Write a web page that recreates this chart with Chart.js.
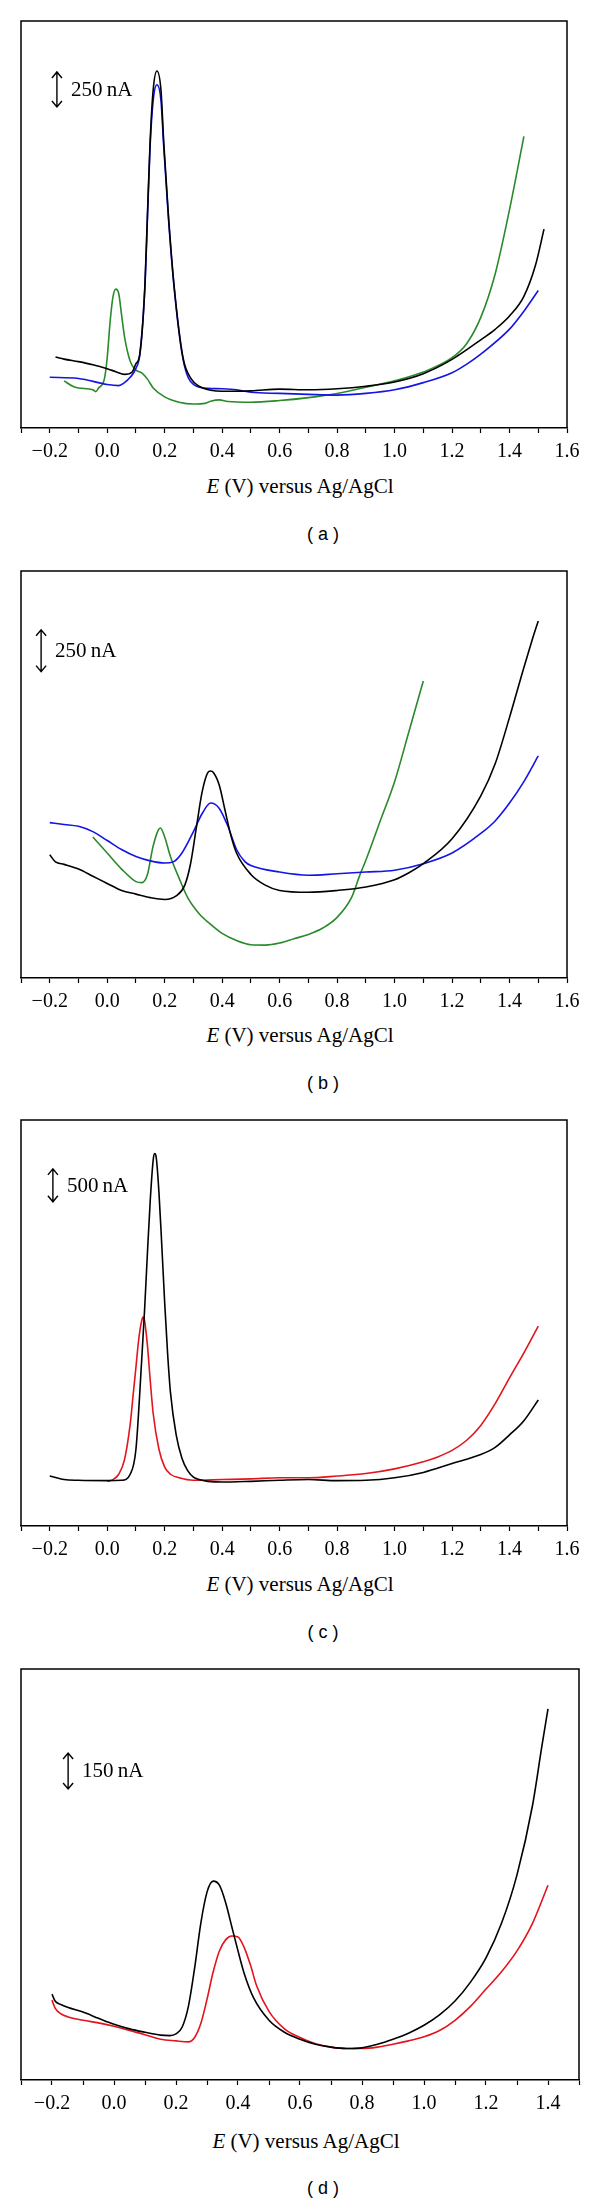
<!DOCTYPE html>
<html>
<head>
<meta charset="utf-8">
<script src="https://cdn.jsdelivr.net/npm/chart.js@4.4.1/dist/chart.umd.min.js"></script>
<style>
  body { margin: 0; background: #fff; }
  #page { position: relative; width: 600px; height: 2205px; overflow: hidden; }
  canvas { position: absolute; left: 0; }
  .xt { position: absolute; transform: translate(-50%, -50%); white-space: nowrap;
        font-family: "Liberation Serif", serif; font-size: 21px; color: #000; }
  .lab { position: absolute; transform: translate(-50%, -50%); white-space: nowrap;
         font-family: "Liberation Sans", sans-serif; font-size: 18px; color: #000; }
</style>
</head>
<body>
<div id="page">
  <canvas id="chartA" width="600" height="470" style="top:0px"></canvas>
  <canvas id="chartB" width="600" height="470" style="top:550px"></canvas>
  <canvas id="chartC" width="600" height="469" style="top:1099px"></canvas>
  <canvas id="chartD" width="600" height="474" style="top:1648px"></canvas>
  <div class="xt" style="left:300px; top:486px"><i>E</i> (V) versus Ag/AgCl</div>
  <div class="lab" style="left:323px; top:534px">( a )</div>
  <div class="xt" style="left:300px; top:1035px"><i>E</i> (V) versus Ag/AgCl</div>
  <div class="lab" style="left:323px; top:1083px">( b )</div>
  <div class="xt" style="left:300px; top:1584px"><i>E</i> (V) versus Ag/AgCl</div>
  <div class="lab" style="left:323px; top:1632px">( c )</div>
  <div class="xt" style="left:306px; top:2141px"><i>E</i> (V) versus Ag/AgCl</div>
  <div class="lab" style="left:323px; top:2188px">( d )</div>
</div>
<script>
// potentials (V) and currents (nA)

// (a)
var aBlackE = [-0.18, -0.15, -0.10, -0.05, 0.0, 0.03, 0.06, 0.087, 0.10, 0.113, 0.131, 0.14, 0.149, 0.16, 0.173, 0.187, 0.197, 0.213, 0.233, 0.264, 0.293, 0.32, 0.36, 0.4, 0.5, 0.6, 0.7, 0.8, 0.9, 1.0, 1.1, 1.2, 1.3, 1.35, 1.4, 1.45, 1.49, 1.52];
var aBlackI = [507, 492, 474, 452, 423, 402, 383, 400, 460, 520, 1010, 1520, 2030, 2415, 2550, 2415, 2030, 1520, 1010, 500, 349, 298, 270, 262, 265, 278, 273, 280, 298, 329, 388, 490, 630, 705, 800, 940, 1160, 1420];
var aBlueE  = [-0.2, -0.1, 0.0, 0.04, 0.06, 0.08, 0.10, 0.113, 0.131, 0.14, 0.149, 0.16, 0.173, 0.187, 0.197, 0.213, 0.233, 0.264, 0.3, 0.35, 0.4, 0.45, 0.5, 0.6, 0.7, 0.8, 0.9, 1.0, 1.1, 1.2, 1.25, 1.3, 1.4, 1.45, 1.5];
var aBlueI  = [362, 354, 311, 303, 324, 362, 426, 520, 1000, 1500, 2000, 2340, 2452, 2340, 2000, 1500, 1000, 490, 311, 283, 280, 273, 255, 247, 240, 235, 247, 273, 324, 395, 455, 528, 706, 834, 982];
var aGreenE = [-0.15, -0.12, -0.10, -0.05, -0.04, -0.03, -0.01, 0.0, 0.01, 0.02, 0.03, 0.04, 0.05, 0.06, 0.08, 0.10, 0.12, 0.14, 0.16, 0.2, 0.25, 0.3, 0.34, 0.36, 0.39, 0.42, 0.5, 0.6, 0.7, 0.8, 0.9, 1.0, 1.1, 1.2, 1.25, 1.3, 1.35, 1.4, 1.45];
var aGreenI = [337, 298, 286, 273, 260, 286, 349, 502, 757, 936, 992, 961, 808, 655, 477, 413, 393, 349, 286, 222, 184, 171, 176, 191, 201, 189, 184, 196, 217, 247, 291, 337, 400, 502, 600, 790, 1100, 1560, 2083];

// (b)
var bBlackE = [-0.2, -0.18, -0.15, -0.10, -0.05, 0.0, 0.05, 0.10, 0.15, 0.2, 0.24, 0.27, 0.29, 0.31, 0.33, 0.35, 0.36, 0.37, 0.39, 0.41, 0.43, 0.45, 0.5, 0.55, 0.6, 0.7, 0.8, 0.9, 1.0, 1.05, 1.1, 1.2, 1.3, 1.35, 1.4, 1.45, 1.48, 1.5];
var bBlackI = [737, 695, 680, 652, 609, 566, 524, 502, 481, 470, 491, 556, 684, 898, 1111, 1229, 1239, 1229, 1154, 1004, 855, 748, 620, 556, 524, 513, 524, 545, 588, 630, 684, 833, 1090, 1282, 1560, 1859, 2030, 2137];
var bBlueE  = [-0.2, -0.15, -0.10, -0.05, 0.0, 0.05, 0.10, 0.15, 0.2, 0.23, 0.26, 0.3, 0.33, 0.36, 0.39, 0.42, 0.45, 0.48, 0.5, 0.6, 0.7, 0.8, 0.9, 1.0, 1.1, 1.2, 1.3, 1.35, 1.4, 1.45, 1.5];
var bBlueI  = [930, 919, 908, 876, 823, 769, 727, 701, 688, 695, 748, 876, 983, 1047, 1015, 908, 769, 695, 673, 634, 615, 624, 634, 645, 684, 748, 865, 940, 1047, 1175, 1329];
var bGreenE = [-0.05, 0.0, 0.05, 0.10, 0.12, 0.14, 0.16, 0.185, 0.2, 0.22, 0.25, 0.28, 0.32, 0.36, 0.4, 0.45, 0.5, 0.55, 0.6, 0.65, 0.7, 0.75, 0.8, 0.85, 0.88, 0.9, 0.95, 1.0, 1.05, 1.1];
var bGreenI = [844, 748, 652, 577, 571, 620, 791, 898, 844, 727, 598, 481, 385, 321, 267, 224, 199, 197, 209, 235, 261, 299, 363, 481, 620, 705, 940, 1175, 1475, 1778];

// (c)
var cBlackE = [-0.2, -0.15, -0.10, 0.0, 0.05, 0.08, 0.10, 0.12, 0.13, 0.14, 0.15, 0.16, 0.165, 0.17, 0.18, 0.19, 0.2, 0.21, 0.22, 0.24, 0.26, 0.28, 0.3, 0.32, 0.35, 0.4, 0.5, 0.6, 0.7, 0.8, 0.9, 1.0, 1.1, 1.2, 1.3, 1.35, 1.4, 1.45, 1.5];
var cBlackI = [760, 706, 695, 690, 695, 787, 1167, 2525, 3285, 4154, 4968, 5566, 5663, 5620, 5077, 4263, 3394, 2634, 2036, 1385, 1032, 842, 744, 706, 679, 668, 679, 695, 706, 690, 695, 733, 815, 950, 1086, 1195, 1385, 1602, 1917];
var cRedE   = [0.0, 0.02, 0.04, 0.06, 0.08, 0.09, 0.10, 0.11, 0.12, 0.125, 0.13, 0.14, 0.15, 0.16, 0.18, 0.2, 0.22, 0.25, 0.3, 0.4, 0.5, 0.6, 0.7, 0.8, 0.9, 1.0, 1.1, 1.15, 1.2, 1.25, 1.3, 1.35, 1.4, 1.45, 1.5];
var cRedI   = [679, 706, 787, 1005, 1548, 1982, 2416, 2851, 3122, 3176, 3122, 2742, 2199, 1711, 1167, 896, 787, 733, 695, 706, 717, 733, 733, 760, 798, 869, 977, 1050, 1150, 1300, 1530, 1860, 2253, 2634, 3041];

// (d)
var dBlackE = [-0.2, -0.19, -0.17, -0.15, -0.10, -0.05, 0.0, 0.05, 0.10, 0.15, 0.18, 0.2, 0.22, 0.24, 0.26, 0.28, 0.3, 0.32, 0.34, 0.36, 0.38, 0.4, 0.42, 0.45, 0.5, 0.55, 0.6, 0.65, 0.7, 0.75, 0.8, 0.85, 0.9, 0.95, 1.0, 1.05, 1.1, 1.15, 1.2, 1.25, 1.3, 1.35, 1.38, 1.4];
var dBlackI = [358, 329, 314, 303, 283, 257, 232, 213, 199, 187, 185, 192, 221, 307, 466, 653, 783, 829, 812, 740, 639, 538, 444, 343, 249, 199, 170, 149, 137, 131, 134, 149, 170, 195, 228, 271, 329, 408, 509, 653, 855, 1144, 1389, 1547];
var dRedE   = [-0.2, -0.19, -0.17, -0.15, -0.10, -0.05, 0.0, 0.05, 0.10, 0.15, 0.2, 0.24, 0.26, 0.28, 0.3, 0.32, 0.34, 0.36, 0.38, 0.4, 0.42, 0.44, 0.46, 0.5, 0.55, 0.6, 0.65, 0.7, 0.75, 0.8, 0.85, 0.9, 0.95, 1.0, 1.05, 1.1, 1.15, 1.2, 1.25, 1.3, 1.35, 1.4];
var dRedI   = [333, 300, 275, 264, 249, 238, 224, 206, 189, 170, 163, 159, 177, 235, 336, 451, 538, 584, 600, 596, 552, 480, 393, 286, 213, 177, 151, 137, 131, 131, 137, 149, 163, 180, 206, 249, 307, 379, 451, 538, 653, 812];

// axis ranges and scale bars (nA)
var yMaxA = 2907, yMaxB = 2436, yMaxC = 6174, yMaxD = 1713;
var barA = { x: -0.175, top: 2543, size: 250, label: '250\u2009nA' };
var barB = { x: -0.230, top: 2084, size: 250, label: '250\u2009nA' };
var barC = { x: -0.189, top: 5430, size: 500, label: '500\u2009nA' };
var barD = { x: -0.148, top: 1363, size: 150, label: '150\u2009nA' };

var BLACK = '#000000', BLUE = '#1414e6', GREEN = '#2a8a2a', RED = '#e3141c';

function pts(xs, ys) {
    return xs.map(function(v, i) { return { x: v, y: ys[i] }; });
}

function serie(xs, ys, color) {
    return {
        data: pts(xs, ys),
        borderColor: color,
        borderWidth: 1.6,
        pointRadius: 0,
        showLine: true,
        fill: false,
        cubicInterpolationMode: 'monotone'
    };
}

// frame (left, top, right) and the current scale bar
var cadre = {
    id: 'cadre',
    afterDraw: function(chart, args, opts) {
        var ctx = chart.ctx;
        var a = chart.chartArea;
        ctx.save();
        ctx.strokeStyle = '#000';
        ctx.lineWidth = 1.5;
        ctx.beginPath();
        ctx.moveTo(a.left, a.bottom);
        ctx.lineTo(a.left, a.top);
        ctx.lineTo(a.right, a.top);
        ctx.lineTo(a.right, a.bottom);
        ctx.stroke();

        var bar = opts.bar;
        var bx = chart.scales.x.getPixelForValue(bar.x);
        var y1 = chart.scales.y.getPixelForValue(bar.top);
        var y2 = chart.scales.y.getPixelForValue(bar.top - bar.size);
        ctx.lineWidth = 1.4;
        ctx.beginPath();
        ctx.moveTo(bx, y1); ctx.lineTo(bx, y2);
        ctx.moveTo(bx - 5, y1 + 6); ctx.lineTo(bx, y1); ctx.lineTo(bx + 5, y1 + 6);
        ctx.moveTo(bx - 5, y2 - 6); ctx.lineTo(bx, y2); ctx.lineTo(bx + 5, y2 - 6);
        ctx.stroke();
        ctx.fillStyle = '#000';
        ctx.font = '21px "Liberation Serif"';
        ctx.textBaseline = 'middle';
        ctx.textAlign = 'left';
        ctx.fillText(bar.label, bx + 14, (y1 + y2) / 2 + 1);
        ctx.restore();
    }
};

function tickLabel(v) {
    var k = Math.round(v * 10);
    if (k % 2 !== 0) return '';
    return (k < 0 ? '\u2212' : '') + Math.abs(k / 10).toFixed(1);
}

function makeChart(id, datasets, xMax, yMax, padRight, bar) {
    return new Chart(document.getElementById(id).getContext('2d'), {
        type: 'scatter',
        data: { datasets: datasets },
        plugins: [cadre],
        options: {
            responsive: false,
            animation: false,
            events: [],
            layout: { padding: { left: 21, top: 21, right: padRight, bottom: 0 } },
            plugins: {
                legend: { display: false },
                tooltip: { enabled: false },
                cadre: { bar: bar }
            },
            scales: {
                x: {
                    type: 'linear',
                    min: -0.3,
                    max: xMax,
                    afterFit: function(s) { s.height = 42; },
                    border: { display: true, color: '#000', width: 1.5 },
                    grid: { drawOnChartArea: false, drawTicks: true, tickLength: 5, tickColor: '#000', tickWidth: 1.2 },
                    ticks: {
                        stepSize: 0.1,
                        maxTicksLimit: 100,
                        autoSkip: false,
                        maxRotation: 0,
                        padding: 7,
                        color: '#000',
                        font: { family: 'Liberation Serif', size: 20 },
                        callback: tickLabel
                    }
                },
                y: {
                    type: 'linear',
                    display: false,
                    min: 0,
                    max: yMax
                }
            }
        }
    });
}

makeChart('chartA', [serie(aBlackE, aBlackI, BLACK), serie(aBlueE, aBlueI, BLUE), serie(aGreenE, aGreenI, GREEN)], 1.6, yMaxA, 33, barA);
makeChart('chartB', [serie(bBlackE, bBlackI, BLACK), serie(bBlueE, bBlueI, BLUE), serie(bGreenE, bGreenI, GREEN)], 1.6, yMaxB, 33, barB);
makeChart('chartC', [serie(cBlackE, cBlackI, BLACK), serie(cRedE, cRedI, RED)], 1.6, yMaxC, 33, barC);
makeChart('chartD', [serie(dBlackE, dBlackI, BLACK), serie(dRedE, dRedI, RED)], 1.5, yMaxD, 21, barD);
</script>
</body>
</html>
